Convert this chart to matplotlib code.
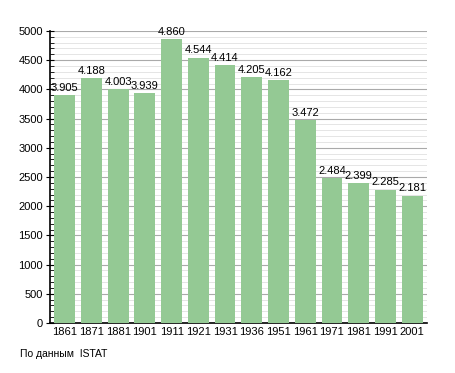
import matplotlib
matplotlib.use("Agg")
import matplotlib.pyplot as plt
from matplotlib.ticker import MultipleLocator

plt.rcParams['font.family'] = ['Liberation Sans', 'DejaVu Sans']

years = ["1861", "1871", "1881", "1901", "1911", "1921", "1931", "1936", "1951", "1961", "1971", "1981", "1991", "2001"]
population = [3905, 4188, 4003, 3939, 4860, 4544, 4414, 4205, 4162, 3472, 2484, 2399, 2285, 2181]
labels = ["3.905", "4.188", "4.003", "3.939", "4.860", "4.544", "4.414", "4.205", "4.162", "3.472", "2.484", "2.399", "2.285", "2.181"]

fig = plt.figure(figsize=(4.55, 3.73), dpi=100)
ax = fig.add_axes([0.110, 0.134, 0.828, 0.783])

x = range(len(years))
ax.bar(x, population, width=0.78, color="#94c994", zorder=3)
for xi, v, lab in zip(x, population, labels):
    ax.text(xi, v + 40, lab, ha="center", va="bottom", fontsize=8, zorder=4)

ax.set_xlim(-0.55, len(years) - 0.45)
ax.set_ylim(0, 5000)
ax.yaxis.set_major_locator(MultipleLocator(500))
ax.yaxis.set_minor_locator(MultipleLocator(100))
ax.grid(which="major", axis="y", color="#aaaaaa", linewidth=0.8, zorder=1)
ax.grid(which="minor", axis="y", color="#e0e0e0", linewidth=0.6, zorder=1)
ax.set_xticks(list(x))
ax.set_xticklabels(years)
ax.tick_params(axis="x", length=0, labelsize=8, pad=3)
ax.tick_params(axis="y", which="major", length=6, labelsize=8, direction="inout", pad=2)
ax.tick_params(axis="y", which="minor", length=3, direction="in")
for s in ["top", "right"]:
    ax.spines[s].set_visible(False)
ax.spines["left"].set_linewidth(1.2)
ax.spines["bottom"].set_linewidth(1.2)

fig.text(0.044, 0.042, "По данным  ISTAT", fontsize=7.5)

fig.savefig("out.png", dpi=100)
